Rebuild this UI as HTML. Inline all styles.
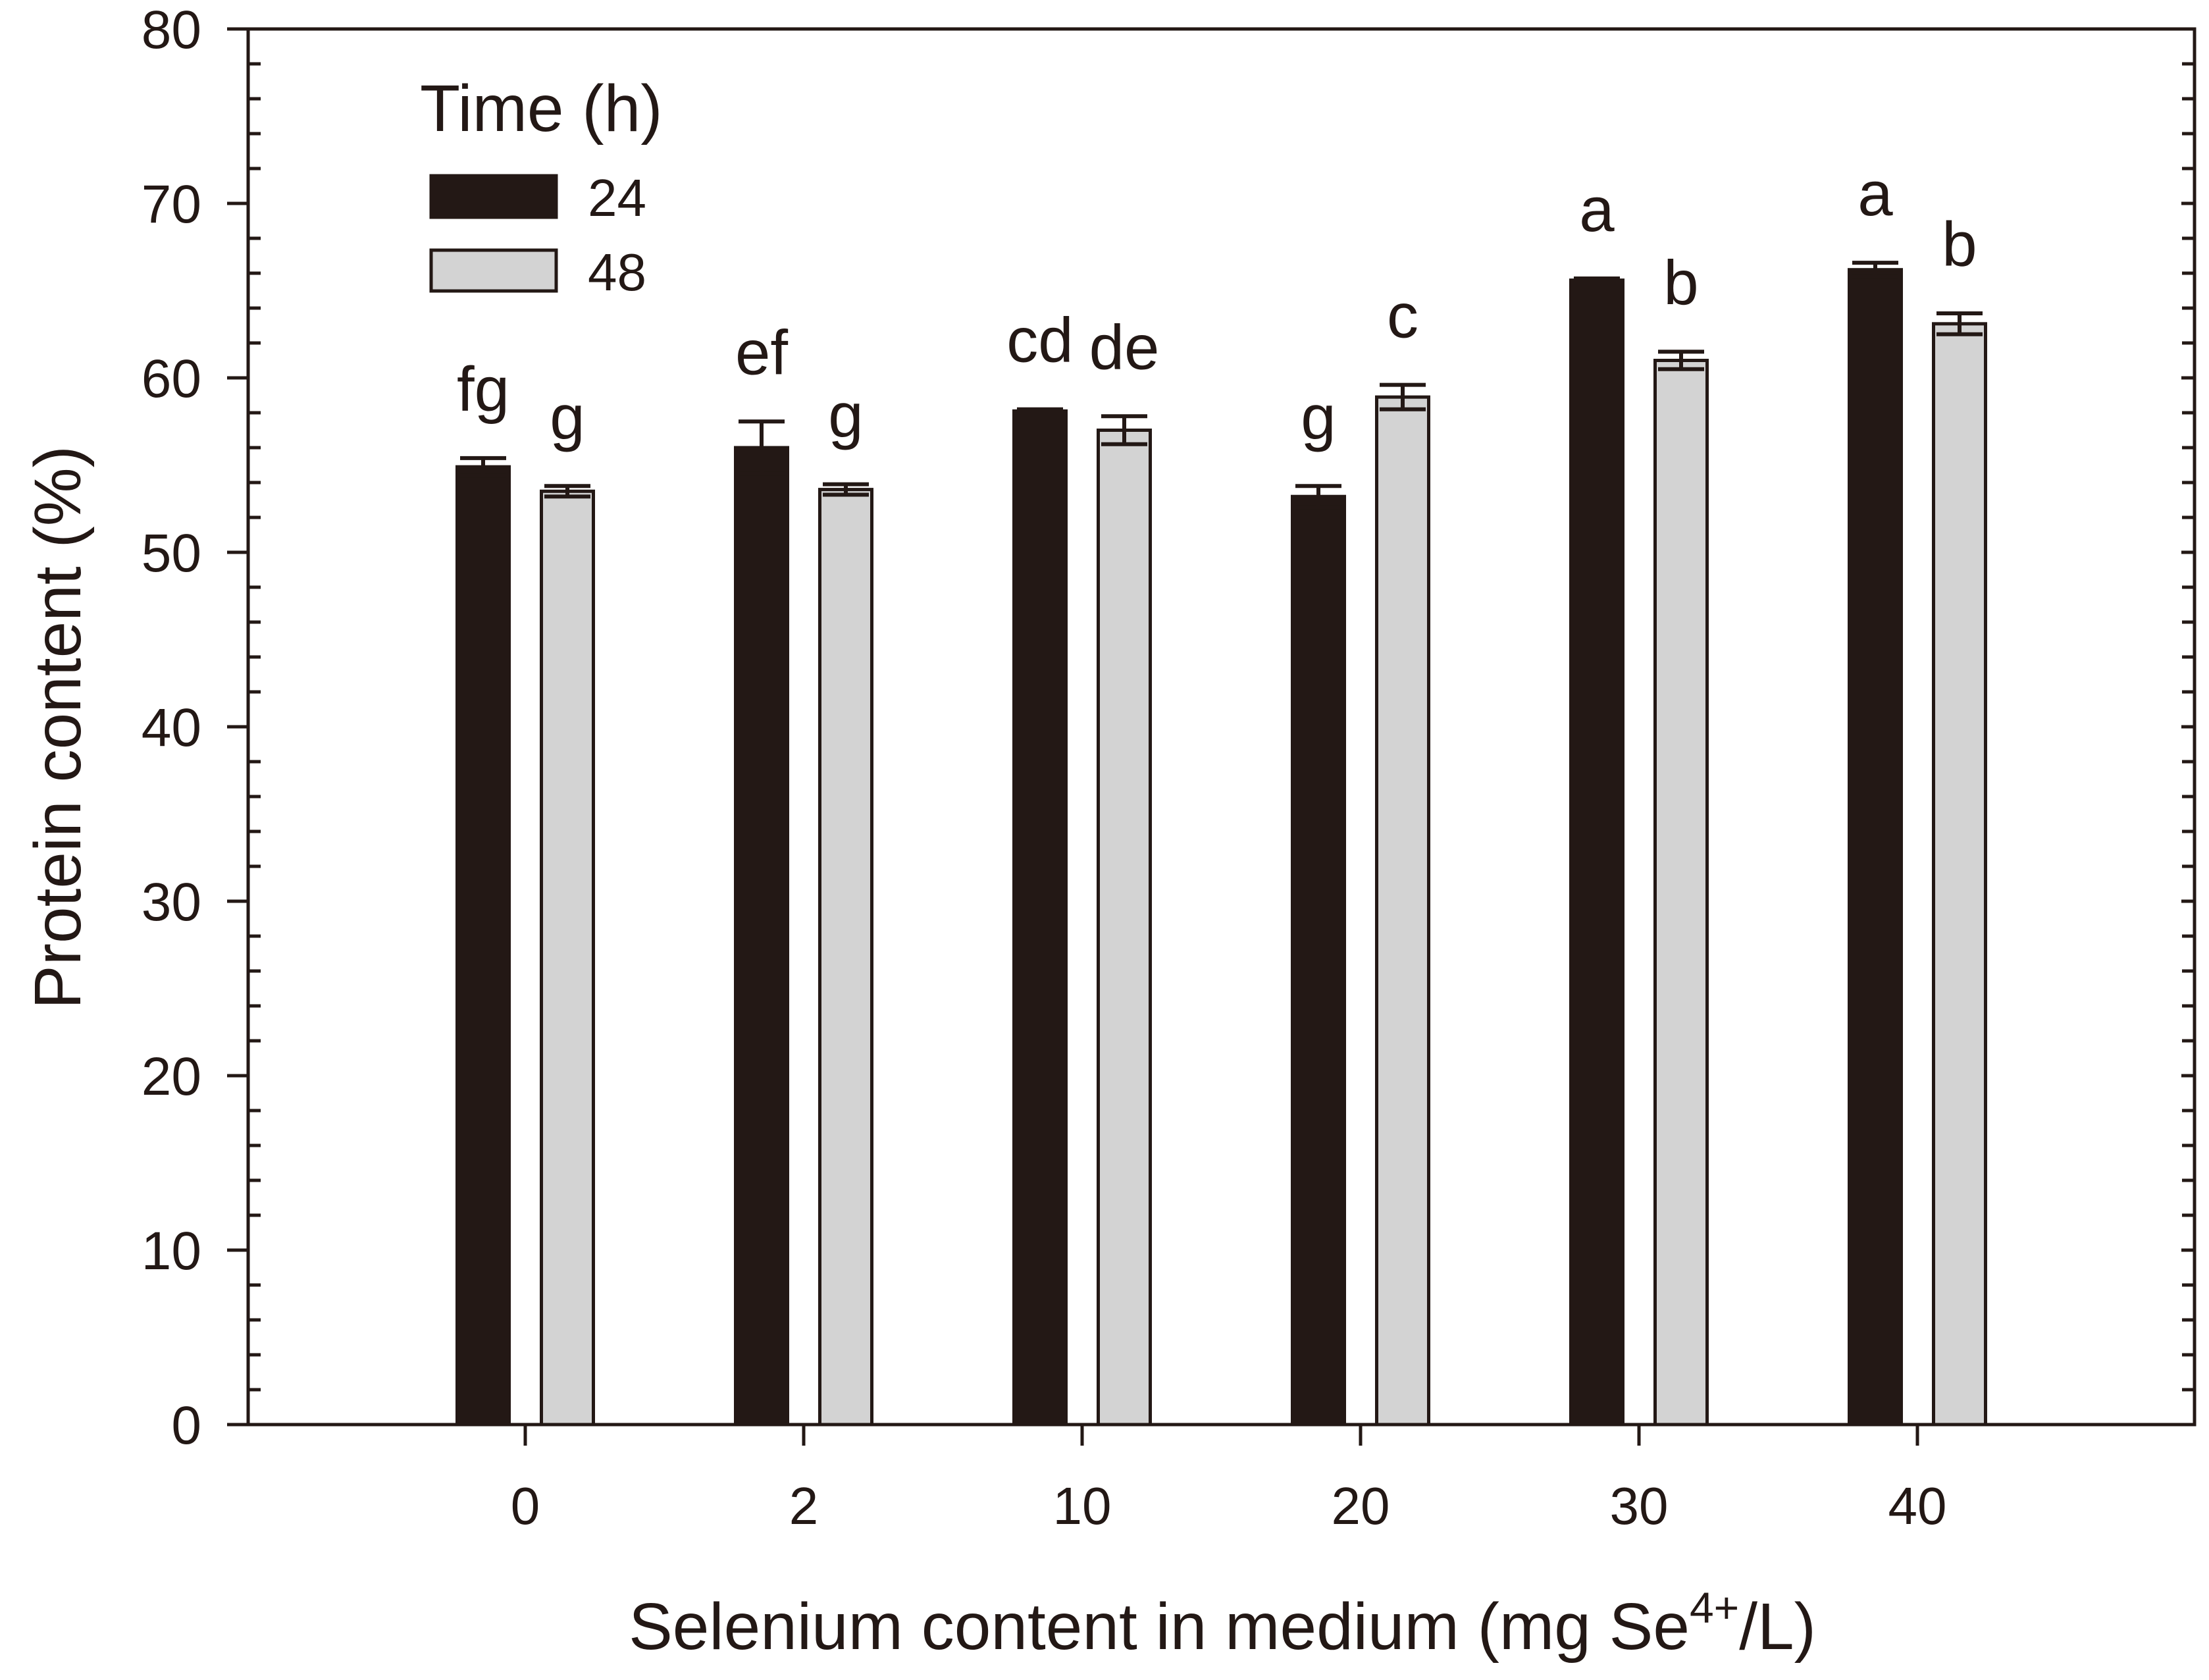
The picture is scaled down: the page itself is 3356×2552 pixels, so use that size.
<!DOCTYPE html>
<html><head><meta charset="utf-8"><style>
html,body{margin:0;padding:0;background:#fff;}
svg{display:block;font-family:"Liberation Sans",Arial,sans-serif;}
</style></head><body>
<svg id="chart" width="3356" height="2552" viewBox="0 0 3356 2552" xmlns="http://www.w3.org/2000/svg">
<g id="plot"></g>
</svg>
<script>
const categories = ["0","2","10","20","30","40"];
const values24 = [54.9, 56.0, 58.1, 53.2, 65.6, 66.2];
const values48 = [53.5, 53.6, 57.0, 58.9, 61.0, 63.1];
const err24 = [0.5, 1.5, 0.1, 0.6, 0.1, 0.4];
const err48 = [0.3, 0.3, 0.8, 0.7, 0.5, 0.6];
const letters24 = ["fg","ef","cd","g","a","a"];
const letters48 = ["g","g","de","c","b","b"];
const yTicks = [0,10,20,30,40,50,60,70,80];

const NS="http://www.w3.org/2000/svg";
const svg=document.getElementById('plot');
const L=377,R=3334,T=44,B=2164,ink="#231815";
const y=v=>B-(v/80)*(B-T);
const x=i=>798+i*423;
function mk(tag,attrs,parent){const e=document.createElementNS(NS,tag);for(const k in attrs)e.setAttribute(k,attrs[k]);(parent||svg).appendChild(e);return e;}

const BW=79, OFF=64;
categories.forEach((c,i)=>{
  [[values24,err24,letters24,-OFF,ink,'24h'],[values48,err48,letters48,OFF,'#d3d3d3','48h']].forEach(([vals,errs,lets,off,fill,tag])=>{
    const cx=x(i)+off, v=vals[i], e=errs[i];
    const r=mk('rect',{x:cx-BW/2,y:y(v),width:BW,height:B-y(v),fill:fill,stroke:ink,'stroke-width':5});
    
    
    const eb=mk('path',{d:`M${cx} ${y(v-e)}V${y(v+e)}M${cx-35} ${y(v+e)}H${cx+35}M${cx-35} ${y(v-e)}H${cx+35}`,stroke:ink,'stroke-width':6,fill:'none'});
    
    
    const t=mk('text',{x:cx,y:y(v+e)-72,'text-anchor':'middle','font-size':96,fill:ink});
    t.textContent=lets[i];
    
    
  });
  const tk=mk('line',{x1:x(i),x2:x(i),y1:B,y2:B+32,stroke:ink,'stroke-width':5});
  
  
  const tl=mk('text',{x:x(i),y:2315,'text-anchor':'middle','font-size':80,fill:ink});
  tl.textContent=c;
  
  
});

yTicks.forEach(v=>{
  const tk=mk('line',{x1:L-32,x2:L,y1:y(v),y2:y(v),stroke:ink,'stroke-width':5});
  
  
  const tk2=mk('line',{x1:R,x2:R-20,y1:y(v),y2:y(v),stroke:ink,'stroke-width':5});
  
  
  const tl=mk('text',{x:306,y:y(v)+29,'text-anchor':'end','font-size':82,fill:ink});
  tl.textContent=v;
  
  
});
for(let v=2;v<80;v+=2){ if(v%10===0) continue;
  const m=mk('line',{x1:L,x2:L+19,y1:y(v),y2:y(v),stroke:ink,'stroke-width':5});
  
  
  const m2=mk('line',{x1:R,x2:R-19,y1:y(v),y2:y(v),stroke:ink,'stroke-width':5});
  
  
}
const frame=mk('rect',{x:L,y:T,width:R-L,height:B-T,fill:'none',stroke:ink,'stroke-width':5});



const xt=mk('text',{x:1857,y:2505,'text-anchor':'middle','font-size':100,fill:ink});
xt.innerHTML='Selenium content in medium (mg Se<tspan dy="-40" font-size="66">4+</tspan><tspan dy="40">/L)</tspan>';


const yt=mk('text',{x:0,y:0,'text-anchor':'middle','font-size':100,fill:ink,transform:'translate(122,1105) rotate(-90)'});
yt.textContent='Protein content (%)';



const lg=mk('g',{});


const lt=mk('text',{x:638,y:199,'font-size':100,fill:ink},lg);
lt.textContent='Time (h)';


const s1=mk('rect',{x:655,y:267,width:190,height:63,fill:ink,stroke:ink,'stroke-width':5},lg);


const l1=mk('text',{x:893,y:328,'font-size':80,fill:ink},lg);
l1.textContent='24';


const s2=mk('rect',{x:655,y:380,width:190,height:62,fill:'#d3d3d3',stroke:ink,'stroke-width':5},lg);


const l2=mk('text',{x:893,y:441,'font-size':80,fill:ink},lg);
l2.textContent='48';


</script>
</body></html>
